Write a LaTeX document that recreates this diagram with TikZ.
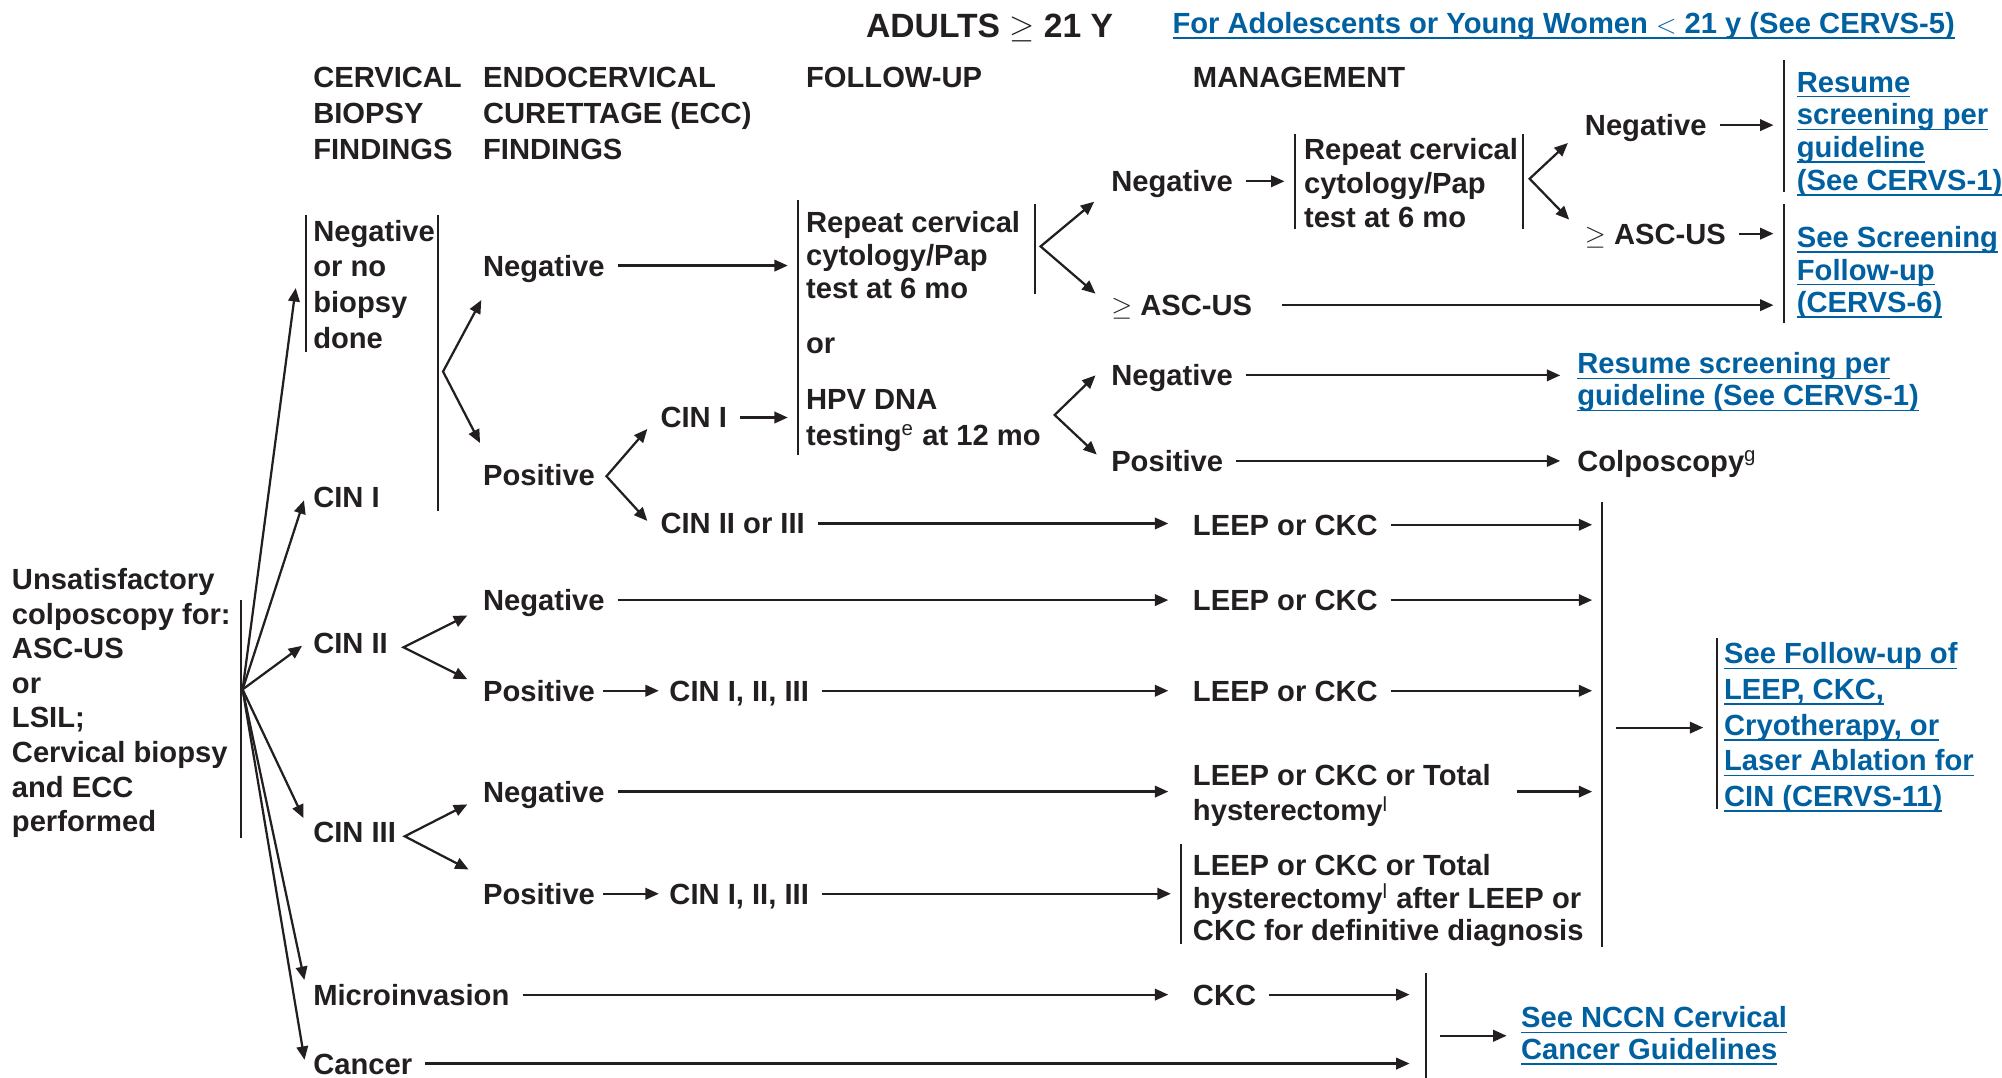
\documentclass[tikz,border=0pt]{standalone}
\usepackage{fontspec}
\setmainfont{Liberation Sans}
\usepackage{tikz}
\usetikzlibrary{arrows.meta}
\definecolor{ink}{RGB}{35,31,32}
\definecolor{linkblue}{RGB}{0,96,160}
\newcommand{\lk}[1]{\leavevmode\setbox0\hbox{#1}\rlap{\rule[-2.4pt]{\wd0}{0.7pt}}\box0}
\tikzset{
  lbl/.style={font=\fontsize{13}{15.6}\selectfont\bfseries, text=ink, inner sep=0pt, anchor=west, text height=9.3pt, text depth=0pt},
  blk/.style={font=\fontsize{13}{#1}\selectfont\bfseries, text=ink, inner sep=0pt, anchor=north west, align=left},
  blk/.default=15.6pt,
  link/.style={text=linkblue},
  arr/.style={->, line width=1pt, draw=ink, shorten <=2mm, shorten >=1.6mm},
  fork/.style={<->, line width=1pt, draw=ink},
  bar/.style={line width=0.9pt, draw=ink}
}

\begin{document}
\begin{tikzpicture}[x=0.2mm,y=-0.2mm,>={Triangle[length=2.1mm,width=1.8mm]}]
\useasboundingbox (0,0) rectangle (1568,844);
% headings
\node[lbl,font=\fontsize{15}{18}\selectfont\bfseries,text height=10.7pt] (title) at (678,20) {ADULTS $\geq$ 21 Y};
\node[lbl,link] (adol) at (918,18) {\lk{For Adolescents or Young Women $<$ 21 y (See CERVS-5)}};
\node[blk=16.2pt] (hbx) at (245,52) {CERVICAL\\BIOPSY\\FINDINGS};
\node[blk=16.2pt] (hecc) at (378,52) {ENDOCERVICAL\\CURETTAGE (ECC)\\FINDINGS};
\node[lbl] (hfu) at (631,60) {FOLLOW-UP};
\node[lbl] (hmg) at (934,60) {MANAGEMENT};

% starting point
\node[blk=15.4pt] (unsat) at (9,445) {Unsatisfactory\\colposcopy for:\\ASC-US\\or\\LSIL;\\Cervical biopsy\\and ECC\\performed};
\draw[bar] (189,470) -- (189,656);
\coordinate (fan) at (190,540);

% cervical biopsy findings
\node[blk=15.9pt] (nob) at (245,172) {Negative\\or no\\biopsy\\done};
\node[lbl] (cin1) at (245,389) {CIN I};
\node[lbl] (cin2) at (245,504) {CIN II};
\node[lbl] (cin3) at (245,652) {CIN III};
\node[lbl] (micro) at (245,779) {Microinvasion};
\node[lbl] (canc) at (245,833) {Cancer};
\draw[bar] (240,168) -- (240,276);
\draw[bar] (343,168) -- (343,400);
\draw[arr,shorten <=0pt,shorten >=0.6mm] (fan) -- ([xshift=-2.6mm]nob.west);
\foreach \t/\a in {cin1/west,cin2/west,cin3/north west,micro/north west,canc/west}
  \draw[arr,shorten <=0pt,shorten >=0.6mm] (fan) -- ([xshift=-1.2mm]\t.\a);

% ECC findings
\node[lbl] (eccneg) at (378,208) {Negative};
\node[lbl] (eccpos) at (378,372) {Positive};
\node[lbl] (ecccin1) at (517,327) {CIN I};
\node[lbl] (ecccin23) at (517,410) {CIN II or III};
\node[lbl] (neg2) at (378,470) {Negative};
\node[lbl] (pos2) at (378,541) {Positive};
\node[lbl] (cinA) at (524,541) {CIN I, II, III};
\node[lbl] (neg3) at (378,620) {Negative};
\node[lbl] (pos3) at (378,700) {Positive};
\node[lbl] (cinB) at (524,700) {CIN I, II, III};

% follow-up
\coordinate (fubar) at (625,157);
\draw[bar] (fubar) -- (625,356);
\draw[bar] (811,160) -- (811,230);
\node[blk=14.8pt] (fu1) at (631,165) {Repeat cervical\\cytology/Pap\\test at 6 mo};
\node[lbl] (fuor) at (631,269) {or};
\node[blk=15.9pt] (fu2) at (631,305) {HPV DNA\\testing\textsuperscript{\mdseries e} at 12 mo};
\node[lbl] (fneg1) at (870,142) {Negative};
\node[lbl] (fasc1) at (870,239) {$\geq$ ASC-US};
\node[lbl] (fneg2) at (870,294) {Negative};
\node[lbl] (fpos) at (870,361) {Positive};

% management
\coordinate (mgbar) at (1014,105);
\draw[bar] (mgbar) -- (1014,179);
\draw[bar] (1193,105) -- (1193,179);
\node[blk=15.1pt] (mg1) at (1021,108) {Repeat cervical\\cytology/Pap\\test at 6 mo};
\node[lbl] (mneg) at (1241,98) {Negative};
\node[lbl] (masc) at (1241,183) {$\geq$ ASC-US};
\coordinate (rsbar) at (1397,47);
\draw[bar] (rsbar) -- (1397,150);
\draw[bar] (1397,160) -- (1397,253);
\node[blk=14.6pt,link] (lres) at (1407,56) {\lk{Resume}\\\lk{screening per}\\\lk{guideline}\\\lk{(See CERVS-1)}};
\node[blk=14.5pt,link] (lscr) at (1407,177) {\lk{See Screening}\\\lk{Follow-up}\\\lk{(CERVS-6)}};
\node[blk=14.2pt,link] (lres2) at (1235,276) {\lk{Resume screening per}\\\lk{guideline (See CERVS-1)}};
\node[lbl] (colp) at (1235,361) {Colposcopy\textsuperscript{\mdseries g}};
\node[lbl] (leep1) at (934,411) {LEEP or CKC};
\node[lbl] (leep2) at (934,470) {LEEP or CKC};
\node[lbl] (leep3) at (934,541) {LEEP or CKC};
\node[blk=15.9pt] (leep4) at (934,598) {LEEP or CKC or Total\\hysterectomy\textsuperscript{\mdseries l}};
\coordinate (l5bar) at (925,661);
\draw[bar] (l5bar) -- (925,739);
\node[blk=14.5pt] (leep5) at (934,669) {LEEP or CKC or Total\\hysterectomy\textsuperscript{\mdseries l} after LEEP or\\CKC for definitive diagnosis};
\node[lbl] (ckc) at (934,779) {CKC};
\coordinate (bigbar) at (1255,393);
\draw[bar] (bigbar) -- (1255,742);
\coordinate (lfbar) at (1345,500);
\draw[bar] (lfbar) -- (1345,634);
\node[blk=15.9pt,link] (lfol) at (1350,503) {\lk{See Follow-up of}\\\lk{LEEP, CKC,}\\\lk{Cryotherapy, or}\\\lk{Laser Ablation for}\\\lk{CIN (CERVS-11)}};
\coordinate (ncbar) at (1117,762);
\draw[bar] (ncbar) -- (1117,844);
\node[blk=14.2pt,link] (lnccn) at (1191,788) {\lk{See NCCN Cervical}\\\lk{Cancer Guidelines}};

% forks
\foreach \n/\x/\y in {v2/347/291, t2a/377/235, t2b/376/347,
                      v3/475/373, t3a/507/336, t3b/507/408,
                      v4/815/193, t4a/857/158, t4b/858/230,
                      v5/826/325, t5a/858/294, t5b/859/356,
                      v6/1198/140, t6a/1228/112, t6b/1229/172,
                      v7/316/507, t7a/366/482, t7b/366/532,
                      v8/317/655, t8a/366/630, t8b/367/681}
  \coordinate (\n) at (\x,\y);
\foreach \v/\a/\b in {v2/t2a/t2b, v3/t3a/t3b, v4/t4a/t4b, v5/t5a/t5b, v6/t6a/t6b, v7/t7a/t7b, v8/t8a/t8b}
  \draw[fork] (\a) -- (\v) -- (\b);

% rows
\draw[arr] (eccneg.east) -- (eccneg.east -| fubar);
\draw[arr] (ecccin1.east) -- (ecccin1.east -| fubar);
\foreach \a/\b in {ecccin23/leep1, neg2/leep2, cinA/leep3, neg3/leep4, micro/ckc}
  \draw[arr,shorten >=3.8mm] (\a.east) -- (\a.east -| \b.west);
\draw[arr,shorten <=1.2mm] (pos2.east) -- (cinA.west);
\draw[arr,shorten <=1.2mm] (pos3.east) -- (cinB.west);
\draw[arr] (cinB.east) -- (cinB.east -| l5bar);
\foreach \a in {leep1,leep2,leep3}
  \draw[arr] (\a.east) -- (\a.east -| bigbar);
\draw[arr,shorten <=4mm] (leep4.east |- neg3.east) -- (bigbar |- neg3.east);
\draw[arr] (fneg1.east) -- (fneg1.east -| mgbar);
\draw[arr,shorten <=4.6mm] (fasc1.east) -- (fasc1.east -| rsbar);
\draw[arr] (mneg.east) -- (mneg.east -| rsbar);
\draw[arr] (masc.east) -- (masc.east -| rsbar);
\draw[arr,shorten >=2.6mm] (fneg2.east) -- (fneg2.east -| lres2.west);
\draw[arr,shorten >=2.6mm] (fpos.east) -- (colp.west);
\draw[arr,shorten >=2.6mm] (ckc.east) -- (ckc.east -| ncbar);
\draw[arr,shorten >=2.6mm] (canc.east) -- (canc.east -| ncbar);
\draw[arr,shorten <=2.2mm,shorten >=3.2mm] (bigbar |- lfol.west) -- (lfol.west);
\draw[arr,shorten <=2.2mm,shorten >=2.2mm] (ncbar |- lnccn.west) -- (lnccn.west);
\end{tikzpicture}
\end{document}
